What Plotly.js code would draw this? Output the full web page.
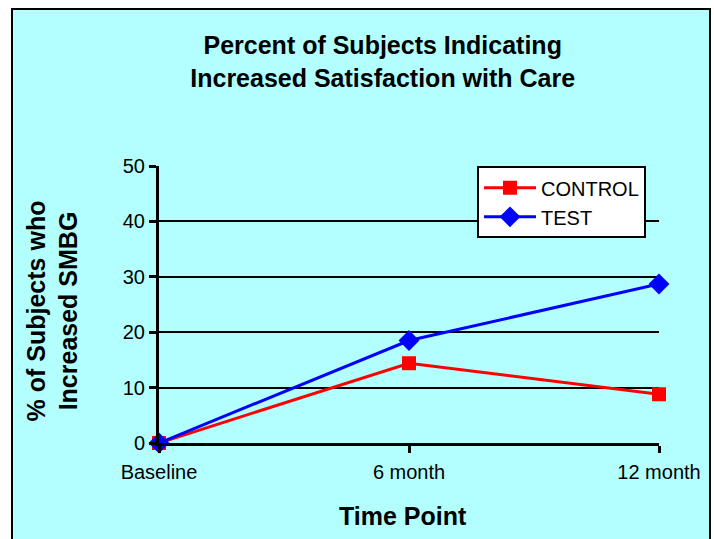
<!DOCTYPE html>
<html>
<head>
<meta charset="utf-8">
<script src="https://cdn.plot.ly/plotly-3.0.1.min.js"></script>
<style>
  html, body { margin:0; padding:0; background:#ffffff; overflow:hidden; width:714px; height:539px; }
  #bg { position:absolute; left:11px; top:8px; width:696px; height:560px; border:2px solid #000; background:#b3ffff; }
  #chart { position:absolute; left:0; top:0; width:714px; height:539px; }
</style>
</head>
<body>
<div id="bg"></div>
<div id="chart"></div>
<script>
const categories = ["Baseline", "6 month", "12 month"];
const controlValues = [0, 14.4, 8.8];
const testValues = [0, 18.5, 28.7];
const yTicks = [0, 10, 20, 30, 40, 50];

const FONT = '"Liberation Sans", Arial, sans-serif';

const traces = [
  {
    name: "CONTROL",
    x: categories,
    y: controlValues,
    type: "scatter",
    mode: "lines+markers",
    line: { color: "#ff0000", width: 3 },
    marker: { color: "#ff0000", symbol: "square", size: 14 },
    cliponaxis: false
  },
  {
    name: "TEST",
    x: categories,
    y: testValues,
    type: "scatter",
    mode: "lines+markers",
    line: { color: "#0000ff", width: 3 },
    marker: { color: "#0000ff", symbol: "diamond", size: 16 },
    cliponaxis: false
  }
];

const layout = {
  width: 714,
  height: 539,
  margin: { l: 159, r: 55, t: 166, b: 96 },
  paper_bgcolor: "rgba(0,0,0,0)",
  plot_bgcolor: "rgba(0,0,0,0)",
  font: { family: FONT, color: "#000000", size: 20 },
  title: {
    text: "<b>Percent of Subjects Indicating<br>Increased Satisfaction with Care</b>",
    font: { family: FONT, size: 25, color: "#000" },
    x: 0.536, xanchor: "center",
    y: 0.899, yanchor: "middle"
  },
  xaxis: {
    type: "category",
    range: [0, 2],
    showline: true, linecolor: "#000", linewidth: 3,
    ticks: "outside", ticklen: 7, tickwidth: 3, tickcolor: "#000",
    ticklabelstandoff: 2,
    showgrid: false, zeroline: false,
    tickfont: { family: FONT, size: 20 }
  },
  yaxis: {
    range: [0, 50],
    tickvals: yTicks,
    ticktext: yTicks.map(String),
    showline: true, linecolor: "#000", linewidth: 3,
    ticks: "outside", ticklen: 7, tickwidth: 3, tickcolor: "#000",
    showgrid: true, gridcolor: "#000", gridwidth: 2,
    zeroline: false,
    tickfont: { family: FONT, size: 20 }
  },
  annotations: [
    {
      text: "<b>% of Subjects who<br>Increased SMBG</b>",
      xref: "paper", yref: "paper",
      x: -0.214, y: 0.475,
      xanchor: "center", yanchor: "middle",
      textangle: -90,
      showarrow: false,
      font: { family: FONT, size: 25, color: "#000" }
    },
    {
      text: "<b>Time Point</b>",
      xref: "paper", yref: "paper",
      x: 0.488, y: -0.262,
      xanchor: "center", yanchor: "middle",
      showarrow: false,
      font: { family: FONT, size: 25, color: "#000" }
    }
  ],
  legend: {
    x: 0.636, y: 0.999, xanchor: "left", yanchor: "top",
    bgcolor: "#ffffff", bordercolor: "#000", borderwidth: 2,
    font: { family: FONT, size: 20 },
    itemwidth: 52,
    tracegroupgap: 0
  },
  showlegend: true
};

Plotly.newPlot("chart", traces, layout, { displayModeBar: false, staticPlot: true });
</script>
</body>
</html>
